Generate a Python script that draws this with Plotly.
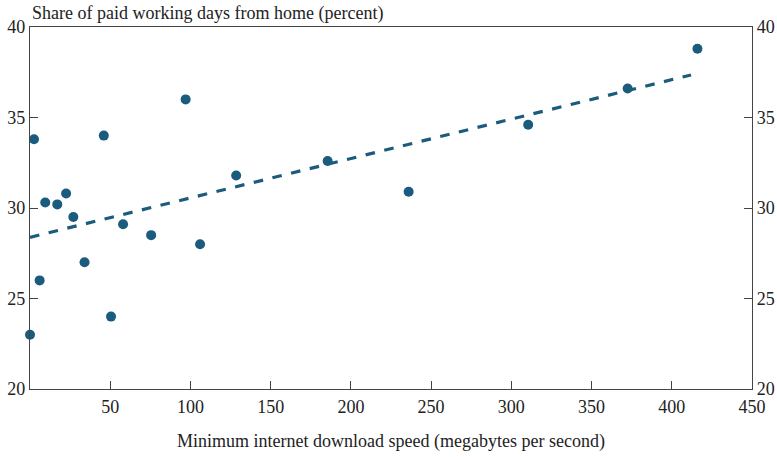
import numpy as np
import plotly.graph_objects as go

speed = [0, 2.5, 6, 9.5, 17, 22.5, 27, 34, 46, 50.5, 58, 75.5, 97, 106,
         128.5, 185.5, 236, 310.5, 372.5, 416]
share = [23.0, 33.8, 26.0, 30.3, 30.2, 30.8, 29.5, 27.0, 34.0, 24.0, 29.1,
         28.5, 36.0, 28.0, 31.8, 32.6, 30.9, 34.6, 36.6, 38.8]

x_ticks = [50, 100, 150, 200, 250, 300, 350, 400, 450]
y_ticks = [20, 25, 30, 35, 40]

title_text = "Share of paid working days from home (percent)"
x_title = "Minimum internet download speed (megabytes per second)"

color = "#1b5b7d"
font = "Liberation Serif"

slope, intercept = np.polyfit(speed, share, 1)
fit_x = [0, 412]
fit_y = [intercept + slope * v for v in fit_x]

fig = go.Figure()
fig.add_trace(go.Scatter(x=fit_x, y=fit_y, mode="lines",
                         line=dict(color=color, width=3.2, dash="dash"),
                         hoverinfo="skip", showlegend=False))
fig.add_trace(go.Scatter(x=speed, y=share, mode="markers",
                         marker=dict(color=color, size=10),
                         showlegend=False, cliponaxis=False))
fig.add_trace(go.Scatter(x=[None], y=[None], yaxis="y2", showlegend=False))

axis_common = dict(showgrid=False, zeroline=False, showline=True,
                   linecolor="#444", linewidth=1.2, ticks="inside",
                   ticklen=8, tickcolor="#444", tickwidth=1.2,
                   tickfont=dict(family=font, size=18, color="#222"))

fig.update_layout(
    width=777, height=457,
    margin=dict(l=30, r=25, t=27, b=68, autoexpand=False),
    plot_bgcolor="white", paper_bgcolor="white",
    font=dict(family=font, color="#222"),
    xaxis=dict(range=[0, 450], tickvals=x_ticks, mirror=True,
               ticklabelstandoff=1,
               title=dict(text=x_title, font=dict(family=font, size=18),
                          standoff=18),
               **axis_common),
    yaxis=dict(range=[20, 40], tickvals=y_ticks, **axis_common),
    yaxis2=dict(range=[20, 40], tickvals=y_ticks, overlaying="y",
                side="right", **axis_common),
    annotations=[dict(text=title_text, x=0, y=1, xref="paper", yref="paper",
                      xanchor="left", yanchor="bottom", showarrow=False,
                      yshift=1, font=dict(family=font, size=18, color="#222"))],
)

fig.write_html("out.html", config={"displayModeBar": False},
               post_script="document.body.style.margin='0px';")
